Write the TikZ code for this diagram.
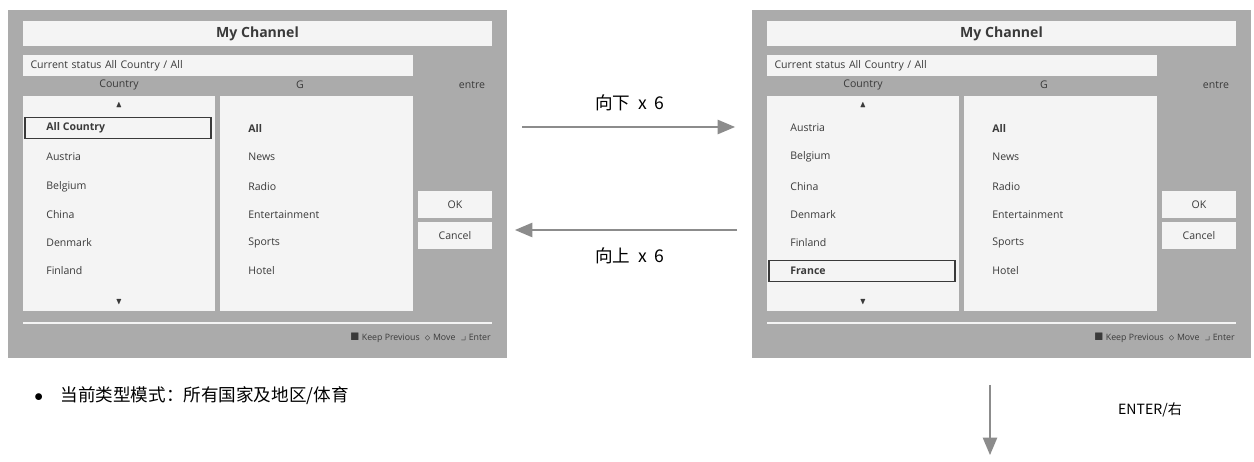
\documentclass[tikz,border=0pt]{standalone}
\usepackage{amssymb}
\usepackage{fontspec}
\setmainfont{Open Sans}
\newfontfamily\cjk{Noto Sans CJK SC}
\usetikzlibrary{arrows, positioning}
\definecolor{panelgray}{HTML}{ABABAB}
\definecolor{boxwhite}{HTML}{F4F4F4}
\definecolor{inkgray}{HTML}{3A3A3A}
\definecolor{arrowgray}{HTML}{8C8C8C}

% one "My Channel" screen, #1 = name prefix, #2 = highlighted row
\newcommand{\channelscreen}[2]{%
    \fill[panelgray] (8,10) rectangle (507,358);
    \node[bar, minimum width=9.38cm, minimum height=0.5cm] (#1title) at (257.5,33.5) {\fontsize{8}{9}\selectfont\bfseries My Channel};
    \node[bar, minimum width=7.8cm, minimum height=0.42cm, text width=7.5cm] (#1status) at (218,65.5) {Current status All Country / All};
    \node[lbl] (#1hcountry) at (119,85) {Country};
    \node[lbl] (#1hg) at (300,85) {G};
    \node[lbl] (#1hgenre) at (472,85) {entre};
    \node[bar, minimum width=3.84cm, minimum height=4.3cm] (#1clist) at (119,203.5) {};
    \node[bar, minimum width=3.86cm, minimum height=4.3cm] (#1glist) at (316.5,203.5) {};
    \node[lbl] (#1up) at (119,105) {\tiny$\blacktriangle$};
    \node[lbl] (#1down) at (119,302) {\tiny$\blacktriangledown$};
    \draw[inkgray, line width=0.6pt] (25,#2-10.5) rectangle (211,#2+10.5);
    \node[bar, minimum width=1.48cm, minimum height=0.54cm] (#1ok) at (455,204.5) {OK};
    \node[bar, minimum width=1.48cm, minimum height=0.54cm] (#1cancel) at (455,235.5) {Cancel};
    \draw[boxwhite, line width=1pt] (23,323) -- (492,323);
    \node[lbl, anchor=east] (#1footer) at (491,338) {\tiny$\blacksquare$ Keep Previous \ $\diamond$ Move \ $\lrcorner$ Enter};
}

\begin{document}
\begin{tikzpicture}[x=0.02cm, y=-0.02cm,
        bar/.style={fill=boxwhite, inner sep=0pt, text=inkgray, font=\fontsize{6}{7}\selectfont},
        lbl/.style={inner sep=0pt, text=inkgray, font=\fontsize{6}{7}\selectfont},
        item/.style={lbl, anchor=west},
        flow/.style={draw=arrowgray, line width=1.3pt, -triangle 45},
        cnlabel/.style={inner sep=0pt, text=black, font=\cjk\fontsize{10}{12}\selectfont}
    ]
    \useasboundingbox (0,0) rectangle (1254,462);

    % left screen
    \channelscreen{L}{128}
    \node[item] (Lc1) at (46,128) {\bfseries All Country};
    \foreach \name/\y [count=\i from 2] in {Austria/157, Belgium/187, China/215, Denmark/243, Finland/271}
        \node[item] (Lc\i) at (46,\y) {\name};

    % right screen
    \begin{scope}[xshift=744*0.02cm]
        \channelscreen{R}{271}
        \foreach \name/\y [count=\i] in {Austria/128, Belgium/157, China/187, Denmark/215, Finland/243}
            \node[item] (Rc\i) at (46,\y) {\name};
        \node[item] (Rc6) at (46,271) {\bfseries France};
    \end{scope}

    % genre lists
    \foreach \sx/\p in {0/L, 744/R} {
        \node[item] (\p g1) at (248+\sx,128) {\bfseries All};
        \foreach \name/\y [count=\i from 2] in {News/157, Radio/187, Entertainment/215, Sports/243, Hotel/271}
            \node[item] (\p g\i) at (248+\sx,\y) {\name};
    }

    % transitions
    \coordinate (fwdstart) at (522,127);
    \coordinate (fwdend) at (735,127);
    \coordinate (backstart) at (737,230);
    \coordinate (backend) at (515,230);
    \coordinate (downstart) at (990,385);
    \coordinate (downend) at (990,455);
    \draw[flow] (fwdstart) -- (fwdend);
    \draw[flow] (backstart) -- (backend);
    \draw[flow] (downstart) -- (downend);
    \node[cnlabel] (downlbl) at (630,103) {向下\ \ x\ \ 6};
    \node[cnlabel] (uplbl) at (630,256) {向上\ \ x\ \ 6};
    \node[cnlabel, font=\cjk\fontsize{8}{10}\selectfont] (enterlbl) at (1150,410) {ENTER/右};

    \node[cnlabel, anchor=west] (status) at (34,396) {$\bullet$\quad 当前类型模式：所有国家及地区/体育};
\end{tikzpicture}
\end{document}
